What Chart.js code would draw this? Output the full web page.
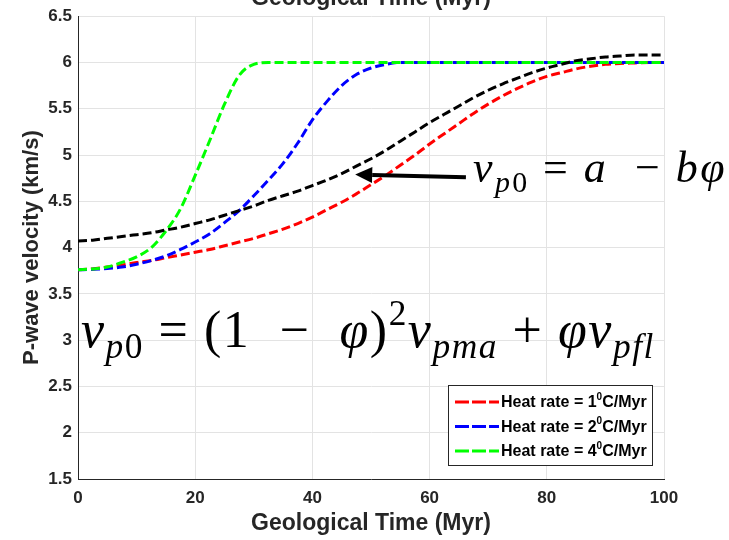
<!DOCTYPE html>
<html>
<head>
<meta charset="utf-8">
<script src="https://cdn.jsdelivr.net/npm/chart.js@4.4.1/dist/chart.umd.min.js"></script>
<style>
  html, body { margin: 0; padding: 0; background: #fff; }
  #wrap { width: 729px; height: 540px; }
</style>
</head>
<body>
<div id="wrap"><canvas id="velocityChart" width="729" height="540"></canvas></div>
<script>
// Geological time (Myr), sampled every 2.5 Myr
const timeMyr = [0, 2.5, 5, 7.5, 10, 12.5, 15, 17.5, 20, 22.5, 25, 27.5, 30, 32.5, 35, 37.5, 40,
  42.5, 45, 47.5, 50, 52.5, 55, 57.5, 60, 62.5, 65, 67.5, 70, 72.5, 75, 77.5, 80, 82.5, 85, 87.5,
  90, 92.5, 95, 97.5, 100];

// P-wave velocity (km/s)
const heatRate1 = [3.76, 3.77, 3.79, 3.81, 3.84, 3.86, 3.89, 3.92, 3.95, 3.98, 4.02, 4.06, 4.10,
  4.15, 4.20, 4.26, 4.33, 4.41, 4.49, 4.58, 4.68, 4.78, 4.89, 5.00, 5.12, 5.23, 5.34, 5.45, 5.55,
  5.64, 5.72, 5.79, 5.85, 5.89, 5.93, 5.96, 5.98, 5.99, 5.995, 6.0, 6.0];
const heatRate2 = [3.76, 3.765, 3.775, 3.79, 3.82, 3.86, 3.91, 3.98, 4.06, 4.15, 4.27, 4.40, 4.56,
  4.73, 4.91, 5.13, 5.38, 5.58, 5.75, 5.87, 5.94, 5.98, 6.0, 6.0, 6.0, 6.0, 6.0, 6.0, 6.0, 6.0, 6.0,
  6.0, 6.0, 6.0, 6.0, 6.0, 6.0, 6.0, 6.0, 6.0, 6.0];
const heatRate4 = [3.76, 3.77, 3.79, 3.84, 3.90, 4.00, 4.18, 4.42, 4.78, 5.16, 5.55, 5.86, 5.98,
  6.0, 6.0, 6.0, 6.0, 6.0, 6.0, 6.0, 6.0, 6.0, 6.0, 6.0, 6.0, 6.0, 6.0, 6.0, 6.0, 6.0, 6.0, 6.0,
  6.0, 6.0, 6.0, 6.0, 6.0, 6.0, 6.0, 6.0, 6.0];
const linearModel = [4.07, 4.08, 4.10, 4.12, 4.14, 4.16, 4.19, 4.22, 4.26, 4.30, 4.35, 4.40, 4.45,
  4.51, 4.56, 4.61, 4.67, 4.73, 4.80, 4.88, 4.96, 5.05, 5.15, 5.25, 5.35, 5.44, 5.53, 5.62, 5.70,
  5.77, 5.83, 5.89, 5.94, 5.98, 6.02, 6.04, 6.06, 6.07, 6.08, 6.08, 6.08];

const seriesLabels = ["Heat rate = 1⁰C/Myr", "Heat rate = 2⁰C/Myr", "Heat rate = 4⁰C/Myr"];
const xTicks = [0, 20, 40, 60, 80, 100];
const yTicks = [1.5, 2, 2.5, 3, 3.5, 4, 4.5, 5, 5.5, 6, 6.5];

const AXIS_COLOR = "#262626";
const SANS = '"Liberation Sans", Arial, sans-serif';
const SERIF = '"Liberation Serif", "DejaVu Serif", serif';
const DASH = [9, 4];

function points(ys) {
  return timeMyr.map((t, i) => ({ x: t, y: ys[i] }));
}

function line(label, ys, color, order) {
  return {
    label: label,
    data: points(ys),
    borderColor: color,
    backgroundColor: color,
    borderWidth: 3,
    borderDash: DASH,
    pointRadius: 0,
    cubicInterpolationMode: "monotone",
    fill: false,
    order: order,
  };
}

// draw a row of text pieces (italic / sub / sup) side by side
function drawRuns(ctx, runs, x, y, size, dry) {
  runs.forEach((r) => {
    const s = size * (r.sc || 1);
    ctx.font = (r.it ? "italic " : "") + s + "px " + SERIF;
    if (!dry) ctx.fillText(r.t, x, y + (r.dy || 0) * size);
    x += ctx.measureText(r.t).width;
  });
  return x;
}

// fixed font size, letter spacing stretched to the wanted width
function fitRuns(ctx, runs, x, y, size, width) {
  ctx.letterSpacing = "0px";
  const w = drawRuns(ctx, runs, 0, 0, size, true);
  const n = runs.reduce((k, r) => k + r.t.length, 0);
  ctx.letterSpacing = Math.max(0, (width - w) / n) + "px";
  drawRuns(ctx, runs, x, y, size, false);
  ctx.letterSpacing = "0px";
}

const SUB = { sc: 0.68, dy: 0.22 };
const SUP = { sc: 0.68, dy: -0.42 };
const formulaLinear = [
  { t: "v", it: true },
  Object.assign({ t: "p", it: true }, SUB),
  Object.assign({ t: "0" }, SUB),
  { t: " = " },
  { t: "a", it: true },
  { t: "  − " },
  { t: "bφ", it: true },
];
const formulaWyllie = [
  { t: "v", it: true },
  Object.assign({ t: "p", it: true }, SUB),
  Object.assign({ t: "0" }, SUB),
  { t: " = (1  −  " },
  { t: "φ", it: true },
  { t: ")" },
  Object.assign({ t: "2" }, SUP),
  { t: "v", it: true },
  Object.assign({ t: "pma", it: true }, SUB),
  { t: " + " },
  { t: "φ", it: true },
  { t: "v", it: true },
  Object.assign({ t: "pfl", it: true }, SUB),
];

const annotations = {
  id: "annotations",
  afterDraw(chart) {
    const ctx = chart.ctx;
    const xs = chart.scales.x;
    const ys = chart.scales.y;
    ctx.save();
    ctx.textBaseline = "alphabetic";

    // clipped title above the plot
    ctx.fillStyle = AXIS_COLOR;
    ctx.font = "bold 23px " + SANS;
    ctx.textAlign = "center";
    ctx.fillText("Geological Time (Myr)", (chart.chartArea.left + chart.chartArea.right) / 2, 5);
    ctx.textAlign = "left";
    ctx.fillStyle = "#000";

    // formulas
    fitRuns(ctx, formulaLinear, xs.getPixelForValue(67.4), ys.getPixelForValue(4.71), 44, 254);
    fitRuns(ctx, formulaWyllie, xs.getPixelForValue(0.5), ys.getPixelForValue(2.93), 52, 574);

    // arrow
    const x0 = xs.getPixelForValue(66.2), y0 = ys.getPixelForValue(4.76);
    const x1 = xs.getPixelForValue(47.3), y1 = ys.getPixelForValue(4.79);
    const ang = Math.atan2(y1 - y0, x1 - x0);
    const head = 17, half = 8;
    ctx.strokeStyle = "#000";
    ctx.lineWidth = 4;
    ctx.beginPath();
    ctx.moveTo(x0, y0);
    ctx.lineTo(x1 - head * Math.cos(ang), y1 - head * Math.sin(ang));
    ctx.stroke();
    ctx.beginPath();
    ctx.moveTo(x1, y1);
    ctx.lineTo(x1 - head * Math.cos(ang) + half * Math.sin(ang), y1 - head * Math.sin(ang) - half * Math.cos(ang));
    ctx.lineTo(x1 - head * Math.cos(ang) - half * Math.sin(ang), y1 - head * Math.sin(ang) + half * Math.cos(ang));
    ctx.closePath();
    ctx.fill();

    // legend box
    const bx = 448, by = 385, bw = 204, bh = 80;
    ctx.fillStyle = "#fff";
    ctx.fillRect(bx, by, bw, bh);
    ctx.strokeStyle = AXIS_COLOR;
    ctx.lineWidth = 1;
    ctx.strokeRect(bx + 0.5, by + 0.5, bw, bh);
    chart.data.datasets.forEach((ds, i) => {
      if (!ds.label) return;
      const rowY = by + 17 + i * 24.5;
      ctx.strokeStyle = ds.borderColor;
      ctx.lineWidth = 3;
      ctx.setLineDash([14, 3]);
      ctx.beginPath();
      ctx.moveTo(bx + 7, rowY);
      ctx.lineTo(bx + 51, rowY);
      ctx.stroke();
      ctx.setLineDash([]);
      ctx.fillStyle = "#000";
      const parts = ds.label.split("⁰");
      let tx = bx + 53;
      ctx.textBaseline = "middle";
      ctx.font = "bold 16px " + SANS;
      ctx.fillText(parts[0], tx, rowY + 1);
      tx += ctx.measureText(parts[0]).width;
      ctx.font = "bold 10px " + SANS;
      ctx.fillText("0", tx, rowY - 5);
      tx += ctx.measureText("0").width;
      ctx.font = "bold 16px " + SANS;
      ctx.fillText(parts[1], tx, rowY + 1);
    });
    ctx.restore();
  },
};

const chartCtx = document.getElementById("velocityChart").getContext("2d");
new Chart(chartCtx, {
  type: "line",
  data: {
    datasets: [
      line(seriesLabels[0], heatRate1, "#ff0000", 3),
      line(seriesLabels[1], heatRate2, "#0000ff", 2),
      line(seriesLabels[2], heatRate4, "#00ff00", 1),
      line("", linearModel, "#000000", 0),
    ],
  },
  options: {
    responsive: false,
    animation: false,
    devicePixelRatio: 1,
    layout: { padding: { top: 16, right: 65, left: 0, bottom: 0 } },
    plugins: {
      legend: { display: false },
      tooltip: { enabled: false },
    },
    scales: {
      x: {
        type: "linear",
        min: 0,
        max: 100,
        afterBuildTicks: (s) => { s.ticks = xTicks.map((v) => ({ value: v })); },
        afterFit: (s) => { s.height = 61; },
        grid: { color: "#e3e3e3", drawTicks: false },
        border: { color: AXIS_COLOR, width: 1 },
        ticks: {
          color: AXIS_COLOR,
          padding: 9,
          maxRotation: 0,
          callback: (v) => String(v),
          font: { family: SANS, size: 17, weight: "bold" },
        },
        title: {
          display: true,
          text: "Geological Time (Myr)",
          color: AXIS_COLOR,
          padding: { top: 0, bottom: 3 },
          font: { family: SANS, size: 23, weight: "bold" },
        },
      },
      y: {
        type: "linear",
        min: 1.5,
        max: 6.5,
        afterBuildTicks: (s) => { s.ticks = yTicks.map((v) => ({ value: v })); },
        afterFit: (s) => { s.width = 78; },
        grid: { color: "#e3e3e3", drawTicks: false },
        border: { color: AXIS_COLOR, width: 1 },
        ticks: {
          color: AXIS_COLOR,
          padding: 6,
          callback: (v) => String(v),
          font: { family: SANS, size: 17, weight: "bold" },
        },
        title: {
          display: true,
          text: "P-wave velocity (km/s)",
          color: AXIS_COLOR,
          padding: { top: 19, bottom: 0 },
          font: { family: SANS, size: 22, weight: "bold" },
        },
      },
    },
  },
  plugins: [annotations],
});
</script>
</body>
</html>
